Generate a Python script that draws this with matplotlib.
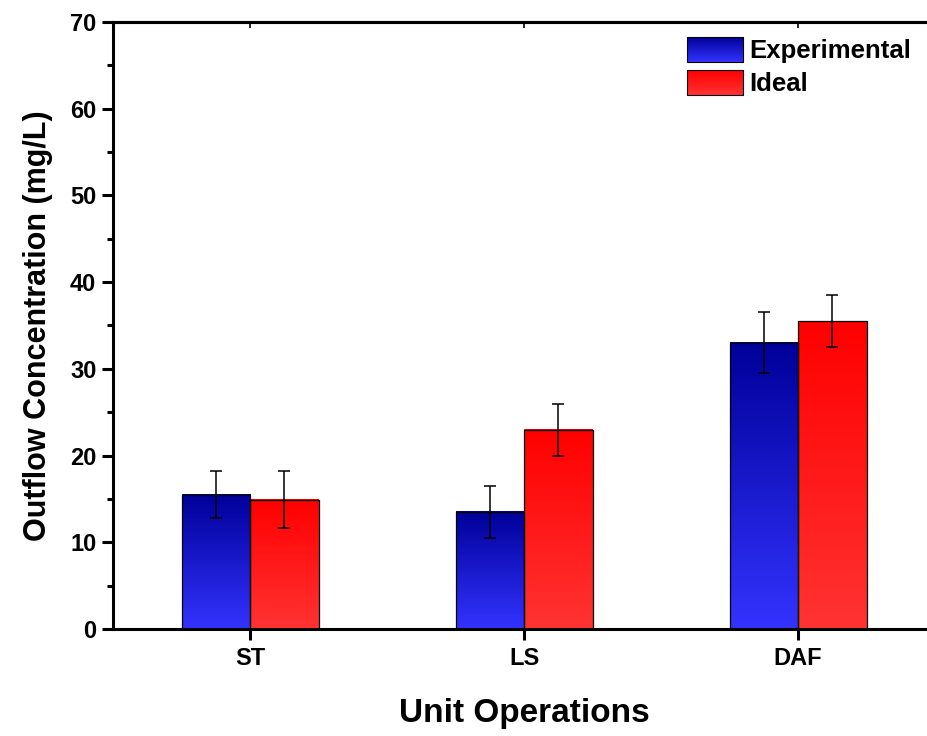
import numpy as np
import matplotlib
matplotlib.use("Agg")
import matplotlib.pyplot as plt
from matplotlib.colors import LinearSegmentedColormap
from matplotlib.patches import Rectangle
from matplotlib.legend_handler import HandlerBase
from matplotlib.image import BboxImage
from matplotlib.transforms import Bbox, TransformedBbox
from matplotlib.ticker import MultipleLocator

plt.rcParams["font.family"] = ["Liberation Sans", "DejaVu Sans"]
plt.rcParams["font.weight"] = "bold"

categories = ["ST", "LS", "DAF"]
series = ["Experimental", "Ideal"]
experimental = [15.5, 13.5, 33.0]
experimental_err = [2.7, 3.0, 3.5]
ideal = [14.9, 23.0, 35.5]
ideal_err = [3.3, 3.0, 3.0]

# bottom colour -> top colour of each gradient
cmaps = [
    LinearSegmentedColormap.from_list("blue", ["#3333ff", "#000099"]),
    LinearSegmentedColormap.from_list("red", ["#ff3333", "#ff0000"]),
]
grad = np.linspace(0, 1, 256).reshape(-1, 1)


class GradientHandler(HandlerBase):
    def __init__(self, cmap):
        super().__init__()
        self.cmap = cmap

    def create_artists(self, legend, orig_handle, xdescent, ydescent,
                       width, height, fontsize, trans):
        bb = Bbox.from_bounds(-xdescent, -ydescent, width, height)
        img = BboxImage(TransformedBbox(bb, trans), cmap=self.cmap,
                        origin="lower", interpolation="bilinear")
        img.set_data(grad)
        edge = Rectangle((-xdescent, -ydescent), width, height,
                         facecolor="none", edgecolor="black", lw=0.8,
                         transform=trans)
        return [img, edge]


fig = plt.figure(figsize=(9.28, 7.36), dpi=100)
ax = fig.add_axes([0.1218, 0.1454, 0.8858, 0.8247])

x = np.arange(len(categories))
w = 0.25
handles = []
for k, (vals, errs) in enumerate([(experimental, experimental_err),
                                  (ideal, ideal_err)]):
    for i, (v, e) in enumerate(zip(vals, errs)):
        x0 = x[i] + (k - 1) * w
        ax.imshow(grad, extent=[x0, x0 + w, 0, v], origin="lower",
                  cmap=cmaps[k], aspect="auto", interpolation="bilinear",
                  zorder=2)
    bars = ax.bar(x + (k - 0.5) * w, vals, w, facecolor="none",
                  edgecolor="black", lw=0.9, zorder=3, label=series[k])
    ax.errorbar(x + (k - 0.5) * w, vals, yerr=errs, fmt="none",
                ecolor="black", elinewidth=1.1, capsize=4.5,
                capthick=1.1, zorder=4)
    handles.append(bars)

ax.set_xlim(-0.5, 2.5)
ax.set_ylim(0, 70)
ax.set_xticks(x)
ax.set_xticklabels(categories)
ax.yaxis.set_major_locator(MultipleLocator(10))
ax.yaxis.set_minor_locator(MultipleLocator(5))

for sp in ax.spines.values():
    sp.set_linewidth(2.2)
ax.tick_params(axis="y", which="major", length=8, width=2.2,
               labelsize=17, pad=4)
ax.tick_params(axis="y", which="minor", length=4, width=2.2)
ax.tick_params(axis="x", which="major", length=8, width=2.2,
               labelsize=17, pad=5)
top = ax.secondary_xaxis("top")
top.set_xticks(x)
top.tick_params(direction="in", length=4, width=1.2, labeltop=False)
top.spines["top"].set_linewidth(2.2)

ax.set_xlabel("Unit Operations", fontsize=24, fontweight="bold", labelpad=20)
ax.set_ylabel("Outflow Concentration (mg/L)", fontsize=22,
              fontweight="bold", labelpad=12)

ax.legend(handles, series, loc="upper right", frameon=False, fontsize=18.5,
          bbox_to_anchor=(0.99, 1.0), handlelength=2.2, handleheight=1.1,
          handletextpad=0.25, labelspacing=0.25, borderaxespad=0.2,
          handler_map={handles[0]: GradientHandler(cmaps[0]),
                       handles[1]: GradientHandler(cmaps[1])})

fig.savefig("out.png", dpi=100)
